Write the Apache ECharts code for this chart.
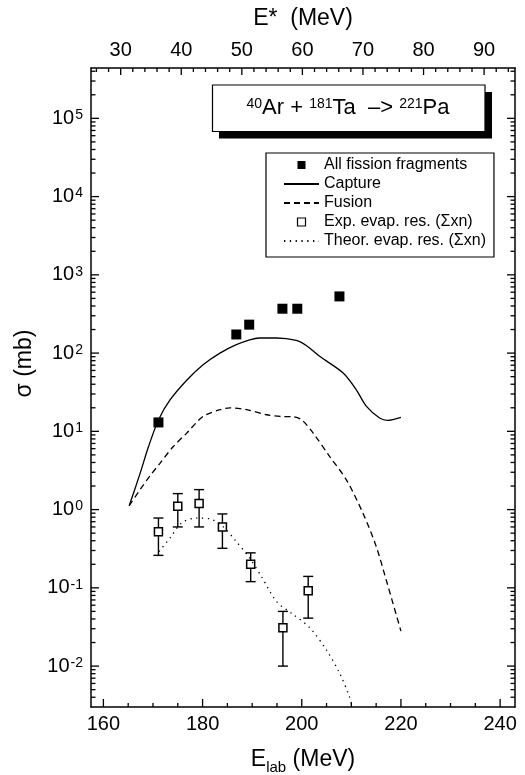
<!DOCTYPE html>
<html>
<head>
<meta charset="utf-8">
<script src="https://cdn.jsdelivr.net/npm/echarts@6/dist/echarts.min.js"></script>
<style>
html,body{margin:0;padding:0;background:#fff;}
#chart{width:525px;height:775px;}
</style>
</head>
<body>
<div id="chart"></div>
<script>
var font = '"Liberation Sans", Arial, Helvetica, sans-serif';

// E_lab (MeV) / sigma (mb)
var fissionE = [171.1, 186.8, 189.4, 196.1, 199.1, 207.6];
var fissionSigma = [13, 173, 231, 369, 369, 530];

var captureE = [165.2, 167.4, 169.1, 171.1, 173.4, 176.8, 180.1, 183.5, 186.8, 189.5, 191.5, 194.9, 198.9, 200.9, 203.6, 208.3, 211.0, 213.0, 215.7, 217.3, 220.0];
var captureSigma = [1.12, 2.9, 6.4, 14, 25, 45, 71, 100, 128, 148, 156, 156, 145, 125, 91, 56, 34, 21, 14.8, 13.8, 15.1];

var fusionE = [165.2, 167.4, 169.4, 171.4, 174.1, 176.8, 180.1, 183.5, 185.5, 188.9, 192.9, 196.0, 198.2, 200.0, 202.3, 205.6, 209.0, 212.3, 215.0, 217.0, 220.0];
var fusionSigma = [1.12, 1.8, 2.7, 3.9, 6.4, 9.5, 15.5, 18.9, 20, 18.9, 16.3, 15.5, 15.4, 14, 9.5, 4.8, 2.4, 0.91, 0.34, 0.128, 0.028];

var expE = [171.1, 175.0, 179.3, 184.0, 189.7, 196.2, 201.3];
var expSigma = [0.52, 1.10, 1.2, 0.60, 0.20, 0.031, 0.092];
var expLow = [0.26, 0.60, 0.60, 0.32, 0.12, 0.010, 0.041];
var expHigh = [0.78, 1.6, 1.8, 0.88, 0.28, 0.05, 0.14];

var theorE = [171.2, 173.4, 175.8, 178.8, 181.5, 184.1, 186.8, 189.5, 192.0, 194.9, 198.2, 201.6, 204.9, 207.6, 209.6, 210.2];
var theorSigma = [0.29, 0.43, 0.68, 0.78, 0.76, 0.61, 0.39, 0.24, 0.135, 0.067, 0.046, 0.031, 0.0163, 0.0082, 0.0041, 0.003];

// axes
var elabRange = [157.5, 243];
var estarRange = [25.1, 95.1];
var sigmaRange = [0.003, 4.4e5];
var elabTicks = [160, 180, 200, 220, 240];
var elabMinor = [165, 170, 175, 185, 190, 195, 205, 210, 215, 225, 230, 235];
var estarTicks = [30, 40, 50, 60, 70, 80, 90];
var estarMinor = [26, 28, 32, 34, 36, 38, 42, 44, 46, 48, 52, 54, 56, 58, 62, 64, 66, 68, 72, 74, 76, 78, 82, 84, 86, 88, 92, 94];
var sigmaDecades = [1e-2, 1e-1, 1, 10, 100, 1000, 1e4, 1e5];
var sigmaMinor = [];
for (var n = -3; n <= 5; n++) {
    for (var k = 2; k <= 9; k++) sigmaMinor.push(k * Math.pow(10, n));
}

function pairs(xs, ys) {
    return xs.map(function (x, i) { return [x, ys[i]]; });
}

var black = '#000';

// inward tick marks as thin rect symbols sitting on the frame
function tickMarks(values, where, len, xIndex) {
    var xr = xIndex === 1 ? estarRange : elabRange;
    var onX = where === 'bottom' || where === 'top';
    var range = onX ? xr : sigmaRange;
    var kept = values.filter(function (v) { return v > range[0] && v < range[1]; });
    var data, size, offset;
    if (where === 'bottom') {
        data = kept.map(function (v) { return [v, sigmaRange[0]]; });
        size = [1.3, len]; offset = [0, -len / 2];
    } else if (where === 'top') {
        data = kept.map(function (v) { return [v, sigmaRange[1]]; });
        size = [1.3, len]; offset = [0, len / 2];
    } else if (where === 'left') {
        data = kept.map(function (v) { return [xr[0], v]; });
        size = [len, 1.3]; offset = [len / 2, 0];
    } else {
        data = kept.map(function (v) { return [xr[1], v]; });
        size = [len, 1.3]; offset = [-len / 2, 0];
    }
    return {
        name: 'tick-' + where + '-' + len, type: 'scatter', xAxisIndex: xIndex, yAxisIndex: 0,
        data: data, symbol: 'rect', symbolSize: size, symbolOffset: offset,
        clip: false, silent: true, z: 4,
        itemStyle: {color: black, opacity: 1}
    };
}

var chart = echarts.init(document.getElementById('chart'));

option = {
    animation: false,
    grid: {left: 91, right: 10, top: 68, bottom: 68, outerBoundsMode: 'none'},
    xAxis: [
        {
            type: 'value', position: 'bottom',
            min: elabRange[0], max: elabRange[1],
            name: '{m|E}{sub|lab}{m| (MeV)}',
            nameLocation: 'middle', nameGap: 41,
            nameTextStyle: {
                rich: {
                    m: {fontSize: 23, fontFamily: font, color: black, verticalAlign: 'top'},
                    sub: {fontSize: 15, fontFamily: font, color: black, verticalAlign: 'top', padding: [12, 0, 0, 0]}
                }
            },
            axisLine: {show: true, lineStyle: {color: black, width: 1.5}},
            axisTick: {show: false},
            axisLabel: {customValues: elabTicks, color: black, fontSize: 20, fontFamily: font, margin: 7},
            splitLine: {show: false}
        },
        {
            type: 'value', position: 'top',
            min: estarRange[0], max: estarRange[1],
            name: 'E*  (MeV)', nameLocation: 'middle', nameGap: 38,
            nameTextStyle: {fontSize: 23, fontFamily: font, color: black},
            axisLine: {show: true, lineStyle: {color: black, width: 1.5}},
            axisTick: {show: false},
            axisLabel: {customValues: estarTicks, color: black, fontSize: 20, fontFamily: font, margin: 8},
            splitLine: {show: false}
        }
    ],
    yAxis: [
        {
            type: 'log', logBase: 10, position: 'left',
            min: sigmaRange[0], max: sigmaRange[1],
            name: 'σ (mb)', nameLocation: 'middle', nameGap: 50,
            nameTextStyle: {fontSize: 23, fontFamily: font, color: black, padding: [0, 0, 0, 48]},
            axisLine: {show: true, lineStyle: {color: black, width: 1.5}},
            axisTick: {show: false},
            axisLabel: {
                customValues: sigmaDecades, color: black, fontSize: 20, fontFamily: font, margin: 8,
                formatter: function (v) {
                    return '{b|10}{s|' + Math.round(Math.log10(v)) + '}';
                },
                rich: {
                    b: {fontSize: 20, fontFamily: font, color: black},
                    s: {fontSize: 14, fontFamily: font, color: black, verticalAlign: 'top', padding: [0, 0, 0, 1]}
                }
            },
            splitLine: {show: false}
        },
        {
            type: 'log', logBase: 10, position: 'right',
            min: sigmaRange[0], max: sigmaRange[1],
            axisLine: {show: true, lineStyle: {color: black, width: 1.5}},
            axisTick: {show: false},
            axisLabel: {show: false},
            splitLine: {show: false}
        }
    ],
    legend: {
        orient: 'vertical',
        left: 266, top: 153,
        padding: [4, 8, 8, 17],
        itemWidth: 35, itemHeight: 8, itemGap: 3,
        borderColor: black, borderWidth: 1.2,
        textStyle: {fontSize: 16, fontFamily: font, color: black},
        data: [
            {name: 'All fission fragments', icon: 'path://M0 0H8V8H0Z', itemStyle: {color: black, opacity: 1}},
            {name: 'Capture', itemStyle: {opacity: 0}},
            {name: 'Fusion', itemStyle: {opacity: 0}},
            {name: 'Exp. evap. res. (Σxn)', icon: 'path://M0 0H8V8H0Z', itemStyle: {color: '#fff', borderColor: black, borderWidth: 1.2, opacity: 1}},
            {name: 'Theor. evap. res. (Σxn)', itemStyle: {opacity: 0}}
        ]
    },
    graphic: [
        {type: 'rect', x: 219, y: 92, shape: {width: 273, height: 46.5}, style: {fill: black}},
        {type: 'rect', x: 212.5, y: 85, shape: {width: 272.5, height: 46.5}, style: {fill: '#fff', stroke: black, lineWidth: 1.2}},
        {
            type: 'text', x: 348, y: 108,
            style: {
                text: '{s|40}{m|Ar + }{s|181}{m|Ta  –> }{s|221}{m|Pa}',
                align: 'center', verticalAlign: 'middle',
                rich: {
                    m: {fontSize: 22, fontFamily: font, fill: black},
                    s: {fontSize: 14, fontFamily: font, fill: black, verticalAlign: 'top'}
                }
            }
        }
    ],
    series: [
        {
            name: 'Capture', type: 'line', xAxisIndex: 0, yAxisIndex: 0,
            data: pairs(captureE, captureSigma),
            symbol: 'none', smooth: 0.3,
            lineStyle: {color: black, width: 1.3}, itemStyle: {color: black}
        },
        {
            name: 'Fusion', type: 'line', xAxisIndex: 0, yAxisIndex: 0,
            data: pairs(fusionE, fusionSigma),
            symbol: 'none', smooth: 0.3,
            lineStyle: {color: black, width: 1.3, type: [6, 4]}, itemStyle: {color: black}
        },
        {
            name: 'Theor. evap. res. (Σxn)', type: 'line', xAxisIndex: 0, yAxisIndex: 0,
            data: pairs(theorE, theorSigma),
            symbol: 'none', smooth: 0.3,
            lineStyle: {color: black, width: 1.3, type: [1.3, 4.5]}, itemStyle: {color: black}
        },
        {
            name: 'errors', type: 'custom', xAxisIndex: 0, yAxisIndex: 0,
            data: expE.map(function (e, i) { return [e, expLow[i], expHigh[i]]; }),
            encode: {x: 0, y: [1, 2]},
            renderItem: function (params, api) {
                var lo = api.coord([api.value(0), api.value(1)]);
                var hi = api.coord([api.value(0), api.value(2)]);
                var st = {stroke: black, lineWidth: 1.4};
                return {
                    type: 'group',
                    children: [
                        {type: 'line', shape: {x1: lo[0], y1: lo[1], x2: hi[0], y2: hi[1]}, style: st},
                        {type: 'line', shape: {x1: lo[0] - 5, y1: lo[1], x2: lo[0] + 5, y2: lo[1]}, style: st},
                        {type: 'line', shape: {x1: hi[0] - 5, y1: hi[1], x2: hi[0] + 5, y2: hi[1]}, style: st}
                    ]
                };
            }
        },
        {
            name: 'Exp. evap. res. (Σxn)', type: 'scatter', xAxisIndex: 0, yAxisIndex: 0,
            data: pairs(expE, expSigma),
            symbol: 'rect', symbolSize: 8,
            itemStyle: {color: '#fff', borderColor: black, borderWidth: 1.5, opacity: 1}
        },
        {
            name: 'All fission fragments', type: 'scatter', xAxisIndex: 0, yAxisIndex: 0,
            data: pairs(fissionE, fissionSigma),
            symbol: 'rect', symbolSize: 10,
            itemStyle: {color: black, opacity: 1}
        },
        tickMarks(elabTicks, 'bottom', 8, 0),
        tickMarks(elabMinor, 'bottom', 4, 0),
        tickMarks(estarTicks, 'top', 7, 1),
        tickMarks(estarMinor, 'top', 4, 1),
        tickMarks(sigmaDecades, 'left', 8, 0),
        tickMarks(sigmaMinor, 'left', 4.5, 0),
        tickMarks(sigmaDecades, 'right', 8, 0),
        tickMarks(sigmaMinor, 'right', 4.5, 0)
    ]
};
chart.setOption(option);
</script>
</body>
</html>
